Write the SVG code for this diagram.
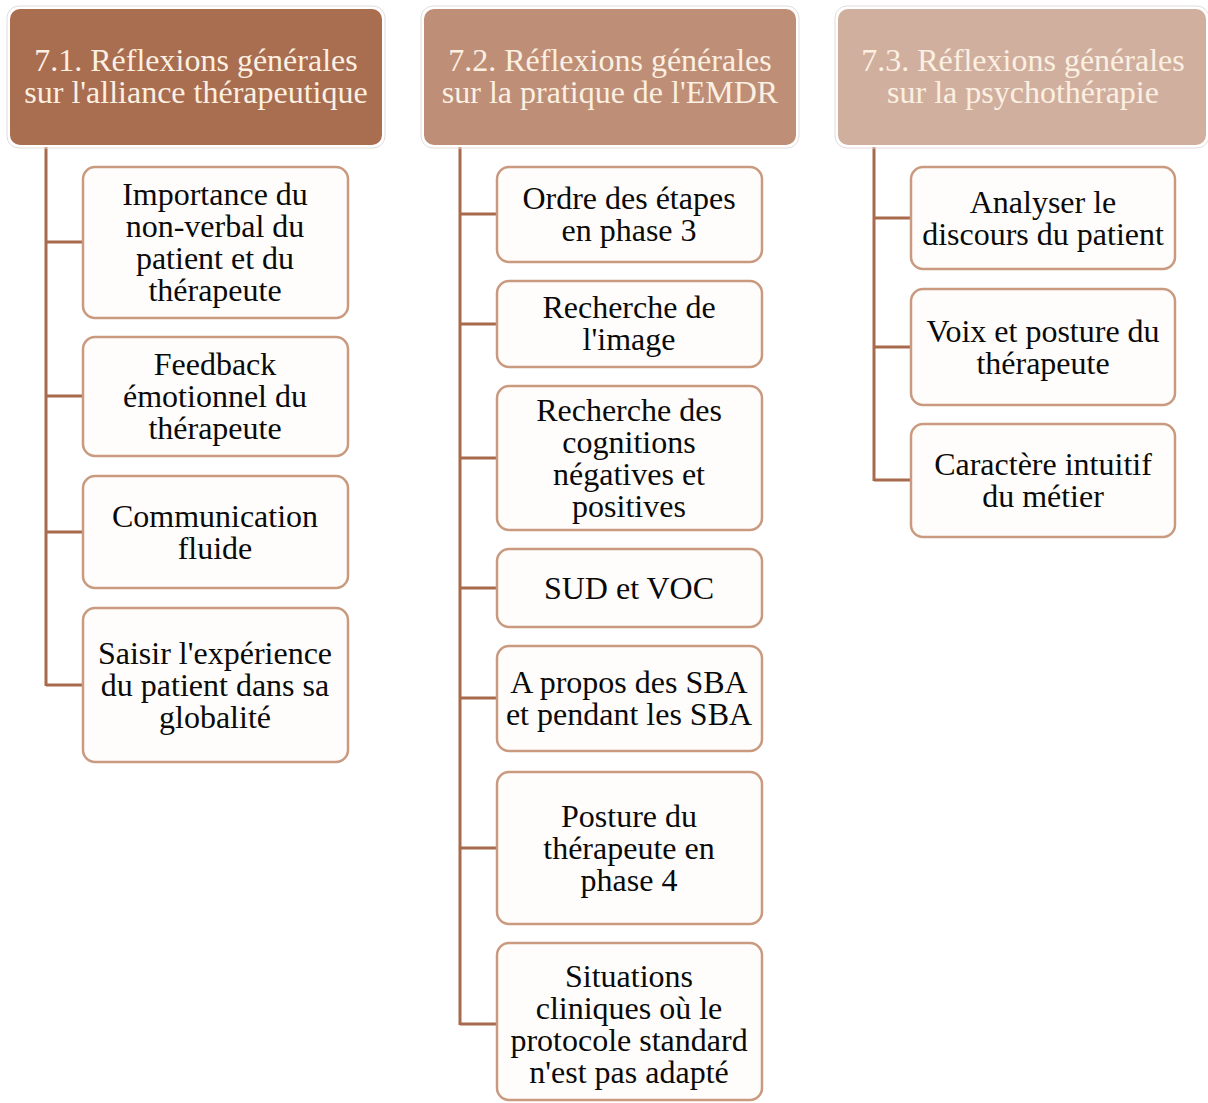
<svg xmlns="http://www.w3.org/2000/svg" width="1208" height="1103" viewBox="0 0 1208 1103">
<style>
.hdr{stroke:#ffffff;stroke-width:2}
.hout{fill:none;stroke:#e2ddda;stroke-width:1}
.ht{font-family:"Liberation Serif","Times New Roman",serif;font-size:32px;fill:#fbf0e2;text-anchor:middle}
.box{fill:#fffdfb;stroke:#c99a80;stroke-width:2.5}
.t{font-family:"Liberation Serif","Times New Roman",serif;font-size:32px;fill:#0a0a0a;text-anchor:middle}
.c{stroke:#a86a4c;stroke-width:3;fill:none}
</style>
<rect width="1208" height="1103" fill="#ffffff"/>
<g id="connectors">
<path class="c" d="M46 146 V686 M46 242 H83 M46 396 H83 M46 532 H83 M46 685 H83"/>
<path class="c" d="M460 146 V1025 M460 214 H497 M460 324 H497 M460 458 H497 M460 588 H497 M460 698 H497 M460 848 H497 M460 1024 H497"/>
<path class="c" d="M874 146 V481 M874 218 H911 M874 347 H911 M874 480 H911"/>
</g>
<g id="h1">
<rect class="hout" x="7" y="6" width="378" height="142" rx="12"/>
<rect class="hdr" x="9" y="8" width="374" height="138" rx="11" fill="#a96d50"/>
<text class="ht" x="196" y="71">7.1. Réflexions générales</text>
<text class="ht" x="196" y="103">sur l'alliance thérapeutique</text>
</g>
<g id="h2">
<rect class="hout" x="421" y="6" width="378" height="142" rx="12"/>
<rect class="hdr" x="423" y="8" width="374" height="138" rx="11" fill="#be8e76"/>
<text class="ht" x="610" y="71">7.2. Réflexions générales</text>
<text class="ht" x="610" y="103">sur la pratique de l'EMDR</text>
</g>
<g id="h3">
<rect class="hout" x="835" y="6" width="374" height="142" rx="12"/>
<rect class="hdr" x="837" y="8" width="370" height="138" rx="11" fill="#d1af9e"/>
<text class="ht" x="1023" y="71">7.3. Réflexions générales</text>
<text class="ht" x="1023" y="103">sur la psychothérapie</text>
</g>
<g id="n1a"><rect class="box" x="83" y="167" width="265" height="151" rx="12"/>
<text class="t" x="215" y="205">Importance du</text><text class="t" x="215" y="237">non-verbal du</text><text class="t" x="215" y="269">patient et du</text><text class="t" x="215" y="301">thérapeute</text></g>
<g id="n1b"><rect class="box" x="83" y="337" width="265" height="119" rx="12"/>
<text class="t" x="215" y="375">Feedback</text><text class="t" x="215" y="407">émotionnel du</text><text class="t" x="215" y="439">thérapeute</text></g>
<g id="n1c"><rect class="box" x="83" y="476" width="265" height="112" rx="12"/>
<text class="t" x="215" y="527">Communication</text><text class="t" x="215" y="559">fluide</text></g>
<g id="n1d"><rect class="box" x="83" y="608" width="265" height="154" rx="12"/>
<text class="t" x="215" y="664">Saisir l'expérience</text><text class="t" x="215" y="696">du patient dans sa</text><text class="t" x="215" y="728">globalité</text></g>
<g id="n2a"><rect class="box" x="497" y="167" width="265" height="95" rx="12"/>
<text class="t" x="629" y="209">Ordre des étapes</text><text class="t" x="629" y="241">en phase 3</text></g>
<g id="n2b"><rect class="box" x="497" y="281" width="265" height="86" rx="12"/>
<text class="t" x="629" y="318">Recherche de</text><text class="t" x="629" y="350">l'image</text></g>
<g id="n2c"><rect class="box" x="497" y="386" width="265" height="144" rx="12"/>
<text class="t" x="629" y="421">Recherche des</text><text class="t" x="629" y="453">cognitions</text><text class="t" x="629" y="485">négatives et</text><text class="t" x="629" y="517">positives</text></g>
<g id="n2d"><rect class="box" x="497" y="549" width="265" height="78" rx="12"/>
<text class="t" x="629" y="599">SUD et VOC</text></g>
<g id="n2e"><rect class="box" x="497" y="646" width="265" height="105" rx="12"/>
<text class="t" x="629" y="693">A propos des SBA</text><text class="t" x="629" y="725">et pendant les SBA</text></g>
<g id="n2f"><rect class="box" x="497" y="772" width="265" height="152" rx="12"/>
<text class="t" x="629" y="827">Posture du</text><text class="t" x="629" y="859">thérapeute en</text><text class="t" x="629" y="891">phase 4</text></g>
<g id="n2g"><rect class="box" x="497" y="943" width="265" height="157" rx="12"/>
<text class="t" x="629" y="987">Situations</text><text class="t" x="629" y="1019">cliniques où le</text><text class="t" x="629" y="1051">protocole standard</text><text class="t" x="629" y="1083">n'est pas adapté</text></g>
<g id="n3a"><rect class="box" x="911" y="167" width="264" height="102" rx="12"/>
<text class="t" x="1043" y="213">Analyser le</text><text class="t" x="1043" y="245">discours du patient</text></g>
<g id="n3b"><rect class="box" x="911" y="289" width="264" height="116" rx="12"/>
<text class="t" x="1043" y="342">Voix et posture du</text><text class="t" x="1043" y="374">thérapeute</text></g>
<g id="n3c"><rect class="box" x="911" y="424" width="264" height="113" rx="12"/>
<text class="t" x="1043" y="475">Caractère intuitif</text><text class="t" x="1043" y="507">du métier</text></g>
</svg>
